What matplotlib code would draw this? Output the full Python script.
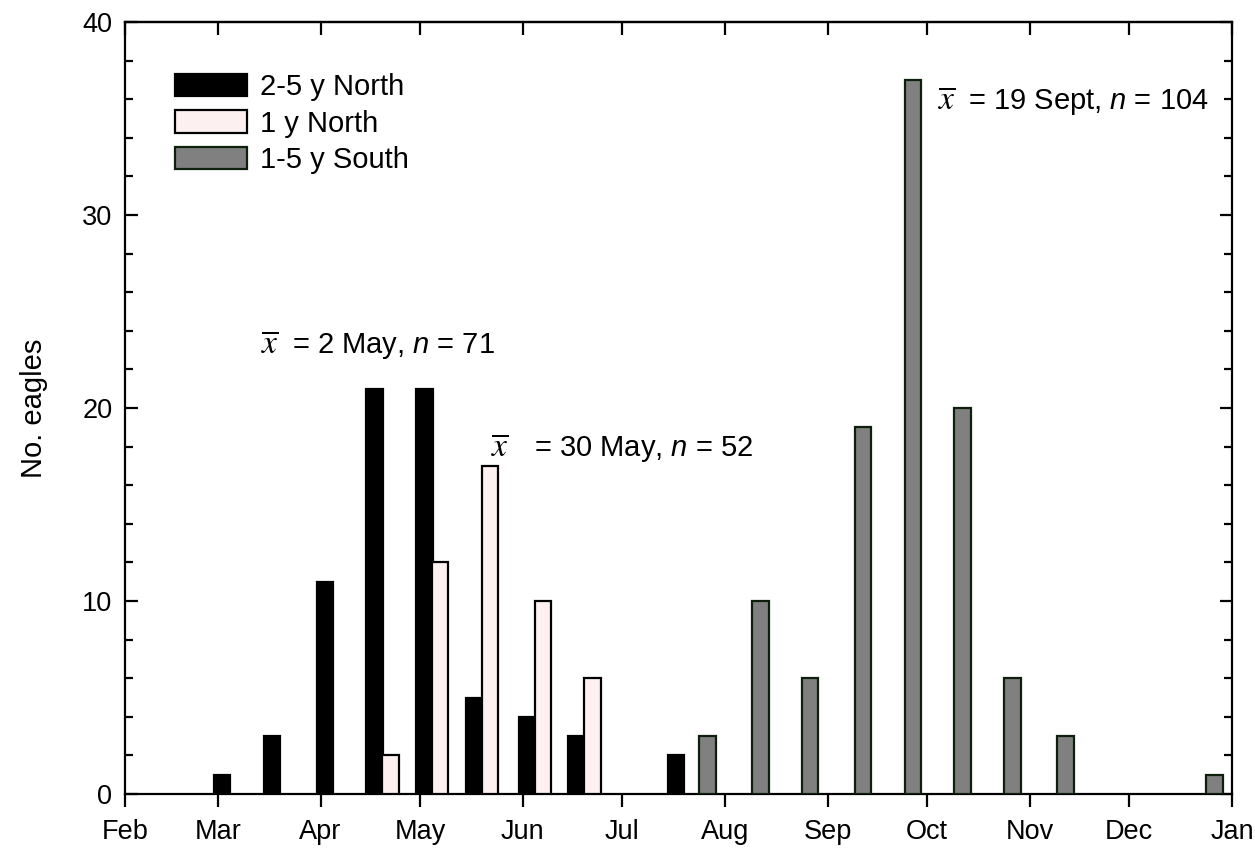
import numpy as np
import pandas as pd
import matplotlib
matplotlib.use("Agg")
import matplotlib.pyplot as plt
from matplotlib.ticker import MultipleLocator

plt.rcParams["font.family"] = ["Liberation Sans", "DejaVu Sans"]
plt.rcParams["mathtext.fontset"] = "custom"
plt.rcParams["mathtext.rm"] = "Liberation Sans"
plt.rcParams["mathtext.it"] = "Liberation Sans:italic"

# half-month bins (start date) and counts per group
north_adult_bins = ["Mar 1", "Mar 16", "Apr 1", "Apr 16", "May 1", "May 16", "Jun 1", "Jun 16", "Jul 16"]
north_adult = [1, 3, 11, 21, 21, 5, 4, 3, 2]

north_juv_bins = ["Apr 16", "May 1", "May 16", "Jun 1", "Jun 16"]
north_juv = [2, 12, 17, 10, 6]

south_bins = ["Jul 16", "Aug 1", "Aug 16", "Sep 1", "Sep 16", "Oct 1", "Oct 16", "Nov 1", "Dec 16"]
south = [3, 10, 6, 19, 37, 20, 6, 3, 1]

labels = ["2-5 y North", "1 y North", "1-5 y South"]
month_labels = ["Feb", "Mar", "Apr", "May", "Jun", "Jul", "Aug", "Sep", "Oct", "Nov", "Dec", "Jan"]

# mean dates / sample sizes shown on the chart
notes = [("2 May", 71), ("30 May", 52), ("19 Sept", 104)]


def doy(s):
    return pd.to_datetime(s + " 2001", format="%b %d %Y").dayofyear


month_pos = [doy(m + " 1") for m in month_labels[:-1]] + [366]

fig = plt.figure(figsize=(12.55, 8.56), dpi=100)
ax = fig.add_axes([0.0996, 0.0724, 0.8821, 0.9019])

w = 5.0
offs = [1.3, 6.1, 10.7]
series = [(north_adult_bins, north_adult, "black", "black"),
          (north_juv_bins, north_juv, "#fdf0f0", "black"),
          (south_bins, south, "#808080", "#0c200c")]
for (b, v, fc, ec), off, lab in zip(series, offs, labels):
    x = np.array([doy(s) for s in b]) + off
    ax.bar(x, v, width=w, color=fc, edgecolor=ec, linewidth=1.6, label=lab, zorder=3)

ax.set_xlim(month_pos[0], month_pos[-1])
ax.set_ylim(0, 40)
ax.set_xticks(month_pos)
ax.set_xticklabels(month_labels)
ax.yaxis.set_major_locator(MultipleLocator(10))
ax.yaxis.set_minor_locator(MultipleLocator(2))

for s in ax.spines.values():
    s.set_linewidth(1.6)
ax.tick_params(axis="x", which="major", direction="out", length=9, width=1.6,
               labelsize=19.5, pad=9, top=False)
ax.tick_params(axis="y", which="major", direction="in", length=9, width=1.6,
               labelsize=19.5, pad=9, right=True)
ax.tick_params(axis="y", which="minor", direction="in", length=5.5, width=1.6, right=True)

# inward ticks on the top spine
sec = ax.secondary_xaxis("top")
sec.set_xticks(month_pos)
sec.tick_params(direction="in", length=9, width=1.6, labelsize=0)
sec.set_xticklabels([])
sec.spines["top"].set_linewidth(1.6)

ax.set_ylabel("No. eagles", fontsize=21, labelpad=25)

leg = ax.legend(loc="upper left", bbox_to_anchor=(0.045, 0.934), frameon=False,
                fontsize=21, handlelength=2.47, handleheight=0.79, handletextpad=0.45,
                labelspacing=0.3, borderpad=0, borderaxespad=0)

# annotations: x-bar (serif) then the rest
spots = [(73.1, 82.4, 22.85), (142.5, 155.5, 17.5), (277.2, 286.3, 35.5)]
for (date, n), (xb, xt, yy) in zip(notes, spots):
    ax.text(xb, yy, r"$\overline{x}$", fontsize=24, math_fontfamily="stix", va="baseline")
    ax.text(xt, yy, "= %s, $n$ = %d" % (date, n), fontsize=21, va="baseline")

fig.savefig("out.png", dpi=100)
